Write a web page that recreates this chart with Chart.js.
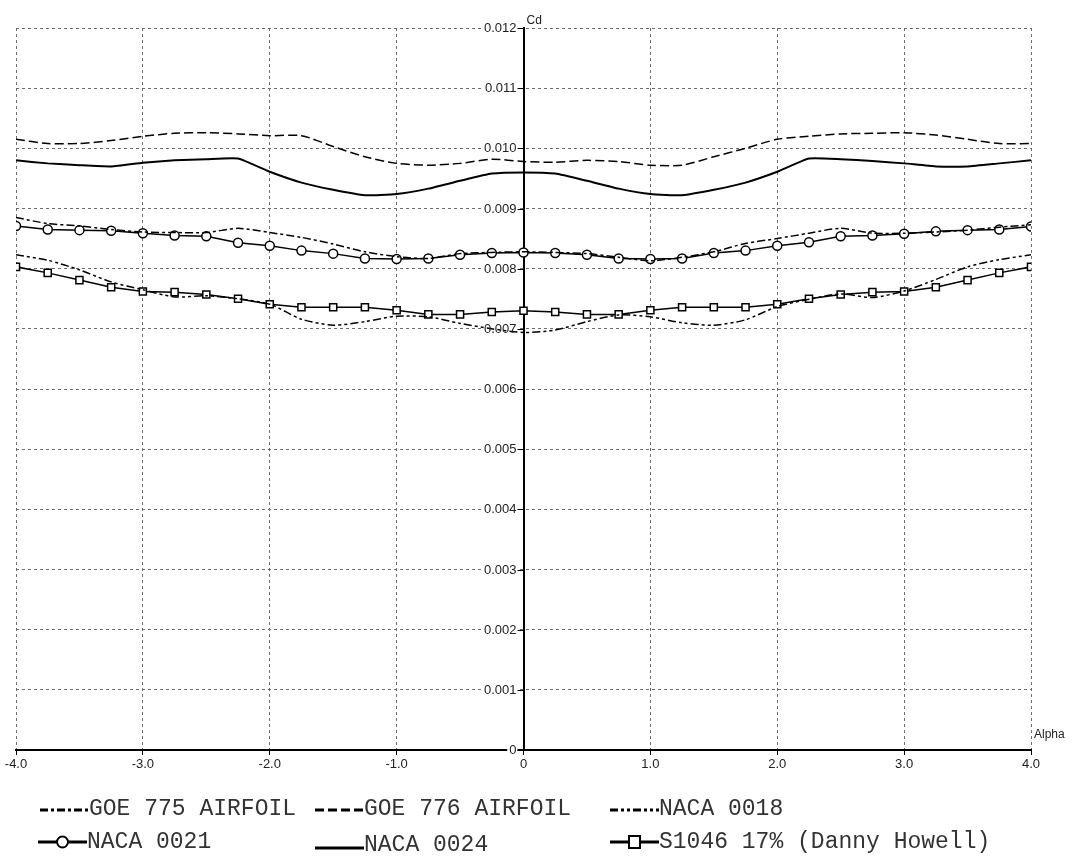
<!DOCTYPE html>
<html>
<head>
<meta charset="utf-8">
<script src="https://cdn.jsdelivr.net/npm/chart.js@4.4.1/dist/chart.umd.min.js"></script>
<style>
    html, body { margin: 0; padding: 0; background: #ffffff; }
    #wrap { width: 1074px; height: 857px; }
</style>
</head>
<body>
<div id="wrap"><canvas id="cd-chart" width="1074" height="857"></canvas></div>
<script>
// Угол атаки, шаг 0.25
const alpha = [-4.0, -3.75, -3.5, -3.25, -3.0, -2.75, -2.5, -2.25, -2.0, -1.75, -1.5, -1.25, -1.0, -0.75, -0.5, -0.25, 0,
    0.25, 0.5, 0.75, 1.0, 1.25, 1.5, 1.75, 2.0, 2.25, 2.5, 2.75, 3.0, 3.25, 3.5, 3.75, 4.0];

const seriesNames = ['GOE 775 AIRFOIL', 'GOE 776 AIRFOIL', 'NACA 0018', 'NACA 0021', 'NACA 0024', 'S1046 17% (Danny Howell)'];

const cdGoe775 = [0.00885, 0.00875, 0.00871, 0.00865, 0.00861, 0.00860, 0.00860, 0.00867, 0.00860, 0.00852, 0.00841, 0.00828, 0.00820, 0.00817, 0.00825, 0.00827, 0.00828,
    0.00827, 0.00825, 0.00819, 0.00813, 0.00819, 0.00828, 0.00842, 0.00850, 0.00859, 0.00867, 0.00859, 0.00859, 0.00861, 0.00864, 0.00869, 0.00873];

const cdGoe776 = [0.01015, 0.01008, 0.01008, 0.01013, 0.01020, 0.01025, 0.01026, 0.01024, 0.01021, 0.01021, 0.01003, 0.00986, 0.00975, 0.00972, 0.00975, 0.00982, 0.00978,
    0.00977, 0.00980, 0.00978, 0.00972, 0.00972, 0.00986, 0.01000, 0.01015, 0.01020, 0.01024, 0.01025, 0.01026, 0.01022, 0.01015, 0.01008, 0.01008];

const cdNaca0018 = [0.00823, 0.00814, 0.00798, 0.00778, 0.00765, 0.00753, 0.00755, 0.00750, 0.00741, 0.00716, 0.00706, 0.00712, 0.00721, 0.00720, 0.00709, 0.00700, 0.00694,
    0.00698, 0.00712, 0.00723, 0.00720, 0.00710, 0.00706, 0.00715, 0.00737, 0.00749, 0.00758, 0.00752, 0.00763, 0.00782, 0.00803, 0.00815, 0.00823];

const cdNaca0021 = [0.00871, 0.00865, 0.00864, 0.00863, 0.00859, 0.00855, 0.00854, 0.00843, 0.00838, 0.00830, 0.00825, 0.00817, 0.00816, 0.00817, 0.00823, 0.00826, 0.00827,
    0.00826, 0.00823, 0.00817, 0.00816, 0.00817, 0.00826, 0.00830, 0.00838, 0.00844, 0.00854, 0.00855, 0.00858, 0.00862, 0.00864, 0.00865, 0.00870];

const cdNaca0024 = [0.00980, 0.00975, 0.00972, 0.00970, 0.00976, 0.00980, 0.00982, 0.00983, 0.00961, 0.00943, 0.00931, 0.00922, 0.00924, 0.00933, 0.00946, 0.00958, 0.00960,
    0.00958, 0.00946, 0.00933, 0.00924, 0.00922, 0.00931, 0.00943, 0.00961, 0.00983, 0.00982, 0.00979, 0.00975, 0.00970, 0.00970, 0.00975, 0.00980];

const cdS1046 = [0.00803, 0.00793, 0.00781, 0.00769, 0.00762, 0.00761, 0.00757, 0.00750, 0.00741, 0.00736, 0.00736, 0.00736, 0.00731, 0.00724, 0.00724, 0.00728, 0.00730,
    0.00728, 0.00724, 0.00724, 0.00731, 0.00736, 0.00736, 0.00736, 0.00741, 0.00750, 0.00757, 0.00761, 0.00762, 0.00769, 0.00781, 0.00793, 0.00803];

const toPoints = (values) => alpha.map((a, i) => ({x: a, y: values[i]}));

const yLabel = v => Math.abs(v) < 1e-9 ? '0' : v.toFixed(3);

// Общий стиль линий
const makeDataset = (label, values, extra) => Object.assign({
    label: label,
    data: toPoints(values),
    borderColor: '#000000',
    backgroundColor: '#ffffff',
    borderWidth: 1.5,
    pointRadius: 0,
    tension: 0.25
}, extra);

const datasets = [
    makeDataset(seriesNames[0], cdGoe775, {borderDash: [8, 3, 3, 3]}),
    makeDataset(seriesNames[1], cdGoe776, {borderDash: [9, 4]}),
    makeDataset(seriesNames[2], cdNaca0018, {borderDash: [8, 3, 3, 3, 3, 3]}),
    makeDataset(seriesNames[3], cdNaca0021, {pointRadius: 4.5, pointStyle: 'circle', pointBorderWidth: 1.5, tension: 0}),
    makeDataset(seriesNames[4], cdNaca0024, {borderWidth: 2, tension: 0.15}),
    makeDataset(seriesNames[5], cdS1046, {pointRadius: 5, pointStyle: 'rect', pointBorderWidth: 1.5, tension: 0})
];

// Подписи оси Y (ось в центре), заголовки осей и легенда
const annotatePlugin = {
    id: 'annotatePlugin',
    // подложка под подписями Y рисуется до линий данных
    beforeDatasetsDraw(chart) {
        const ctx = chart.ctx;
        const yScale = chart.scales.y;
        const xZero = chart.scales.x.getPixelForValue(0);
        ctx.save();
        ctx.font = "13px 'Liberation Sans', sans-serif";
        ctx.fillStyle = '#ffffff';
        yScale.ticks.forEach(t => {
            const py = yScale.getPixelForValue(t.value);
            const w = ctx.measureText(yLabel(t.value)).width;
            ctx.fillRect(xZero - 9 - w, py - 3, w + 3, 6);
        });
        ctx.restore();
    },
    afterDraw(chart) {
        const ctx = chart.ctx;
        const area = chart.chartArea;
        const yScale = chart.scales.y;
        const xZero = chart.scales.x.getPixelForValue(0);

        ctx.save();
        // Засечки и подписи слева от центральной оси
        ctx.strokeStyle = '#000000';
        ctx.lineWidth = 1;
        ctx.fillStyle = '#222222';
        ctx.font = "13px 'Liberation Sans', sans-serif";
        ctx.textAlign = 'right';
        ctx.textBaseline = 'middle';
        yScale.ticks.forEach(t => {
            const py = Math.round(yScale.getPixelForValue(t.value)) + 0.5;
            ctx.beginPath();
            ctx.moveTo(xZero - 6, py);
            ctx.lineTo(xZero + 1, py);
            ctx.stroke();
            ctx.fillText(yLabel(t.value), xZero - 7, py);
        });

        ctx.font = "12px 'Liberation Sans', sans-serif";
        ctx.textBaseline = 'bottom';
        ctx.textAlign = 'left';
        ctx.fillText('Cd', xZero + 3, area.top - 1);
        ctx.fillText('Alpha', area.right + 3, area.bottom - 9);

        // Легенда: 2 строки по 3 элемента
        const slots = [
            {x: 40, y: 810, ty: 809},
            {x: 315, y: 810, ty: 809},
            {x: 610, y: 810, ty: 809},
            {x: 38, y: 842, ty: 842},
            {x: 315, y: 848, ty: 845},
            {x: 610, y: 842, ty: 842}
        ];
        const sampleLen = 49;
        chart.data.datasets.forEach((ds, i) => {
            const s = slots[i];
            ctx.strokeStyle = '#000000';
            ctx.lineWidth = 3;
            ctx.setLineDash(ds.borderDash || []);
            ctx.beginPath();
            ctx.moveTo(s.x, s.y);
            ctx.lineTo(s.x + sampleLen, s.y);
            ctx.stroke();
            ctx.setLineDash([]);

            const cx = s.x + sampleLen / 2;
            ctx.lineWidth = 2;
            ctx.fillStyle = '#ffffff';
            if (ds.pointStyle === 'circle') {
                ctx.beginPath();
                ctx.arc(cx, s.y, 5.5, 0, Math.PI * 2);
                ctx.fill();
                ctx.stroke();
            } else if (ds.pointStyle === 'rect') {
                ctx.fillRect(cx - 5.5, s.y - 6, 11, 12);
                ctx.strokeRect(cx - 5.5, s.y - 6, 11, 12);
            }

            ctx.fillStyle = '#333333';
            ctx.font = "23px 'Liberation Mono', monospace";
            ctx.textBaseline = 'middle';
            ctx.fillText(ds.label, s.x + sampleLen, s.ty);
        });
        ctx.restore();
    }
};

new Chart(document.getElementById('cd-chart'), {
    type: 'line',
    data: {datasets: datasets},
    options: {
        responsive: false,
        animation: false,
        layout: {
            padding: {left: 16, right: 43, top: 28, bottom: 0}
        },
        plugins: {
            legend: {display: false},
            tooltip: {enabled: false}
        },
        scales: {
            x: {
                type: 'linear',
                min: -4,
                max: 4,
                afterFit: s => { s.height = 107; },
                ticks: {
                    stepSize: 1,
                    maxRotation: 0,
                    padding: 2,
                    color: '#222222',
                    font: {family: "'Liberation Sans', sans-serif", size: 13},
                    callback: v => v === 0 ? '0' : v.toFixed(1)
                },
                grid: {
                    color: '#6e6e6e',
                    lineWidth: 1,
                    drawTicks: true,
                    tickLength: 5,
                    tickColor: '#000000',
                    tickBorderDash: []
                },
                border: {display: true, color: '#000000', width: 2, dash: [3, 3]}
            },
            y: {
                type: 'linear',
                position: {x: 0},
                min: 0,
                max: 0.012,
                ticks: {
                    stepSize: 0.001,
                    display: false
                },
                grid: {
                    color: '#6e6e6e',
                    lineWidth: 1,
                    drawTicks: false
                },
                border: {display: true, color: '#000000', width: 2, dash: [3, 3]}
            }
        }
    },
    plugins: [annotatePlugin]
});
</script>
</body>
</html>
